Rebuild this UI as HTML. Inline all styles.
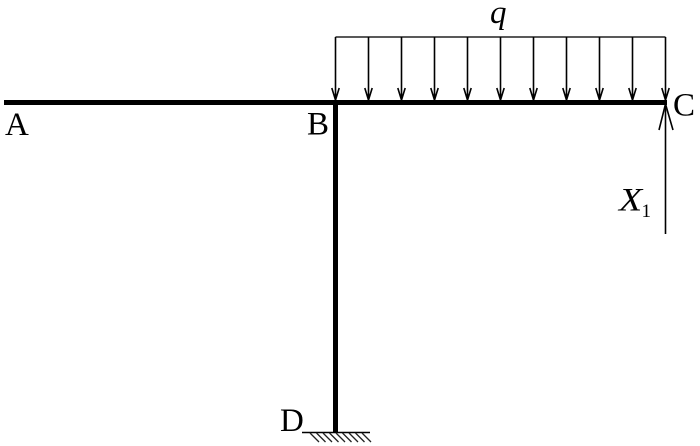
<!DOCTYPE html>
<html>
<head>
<meta charset="utf-8">
<style>
html,body{margin:0;padding:0;background:#fff;width:700px;height:446px;overflow:hidden}
svg{display:block;filter:blur(.3px)}
text{font-family:"Liberation Serif",serif;fill:#000}
</style>
</head>
<body>
<svg width="700" height="446" viewBox="0 0 700 446" xmlns="http://www.w3.org/2000/svg">
<rect width="700" height="446" fill="#fff"/>
<!-- beams -->
<rect x="4" y="100" width="663" height="5" fill="#000"/>
<rect x="333" y="100" width="5" height="332" fill="#000"/>
<!-- distributed load -->
<path d="M335.500 37H665.500" stroke="#222" stroke-width="1.4" fill="none"/>
<g stroke="#000" stroke-width="1.6" fill="none">
<path d="M335.500 37V100M331.800 88L335.500 100L339.200 88"/>
<path d="M368.500 37V100M364.800 88L368.500 100L372.200 88"/>
<path d="M401.500 37V100M397.800 88L401.500 100L405.200 88"/>
<path d="M434.500 37V100M430.800 88L434.500 100L438.200 88"/>
<path d="M467.500 37V100M463.800 88L467.500 100L471.200 88"/>
<path d="M500.500 37V100M496.800 88L500.500 100L504.200 88"/>
<path d="M533.500 37V100M529.800 88L533.500 100L537.200 88"/>
<path d="M566.500 37V100M562.800 88L566.500 100L570.200 88"/>
<path d="M599.500 37V100M595.800 88L599.500 100L603.200 88"/>
<path d="M632.500 37V100M628.800 88L632.500 100L636.200 88"/>
<path d="M665.500 37V100M661.800 88L665.500 100L669.200 88"/>
</g>
<!-- X1 force -->
<g stroke="#000" stroke-width="1.6" fill="none">
<path d="M665.500 104V234"/>
<path d="M659 130L665.500 104L673 130"/>
</g>
<!-- support -->
<path d="M302 432.500H370" stroke="#000" stroke-width="1.5" fill="none"/>
<g stroke="#222" stroke-width="1.3" fill="none">
<path d="M310 433L319 442M316.500 433L325.500 442M323 433L332 442M329.500 433L338.500 442M336 433L345 442M342.500 433L351.500 442M349 433L358 442M355.500 433L364.500 442M362 433L371 442"/>
</g>
<!-- labels -->
<text x="5" y="135" font-size="33">A</text>
<text x="307" y="134.500" font-size="33">B</text>
<text x="673" y="115.500" font-size="33">C</text>
<text x="280" y="431" font-size="33">D</text>
<text x="490" y="23" font-size="33" font-style="italic">q</text>
<text transform="translate(619 210.500) scale(1.15 1)" font-size="33" font-style="italic">X</text>
<text x="641.500" y="217" font-size="19">1</text>
</svg>
</body>
</html>
